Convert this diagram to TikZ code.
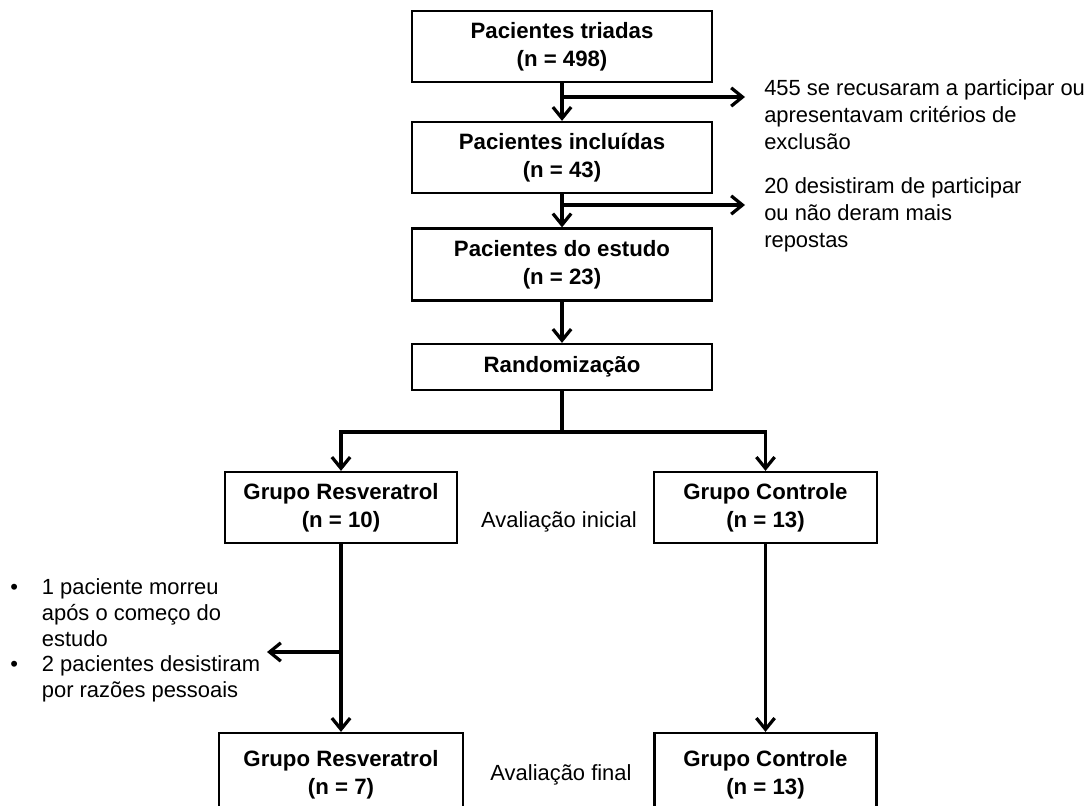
\documentclass[tikz,border=0pt]{standalone}
\usepackage{fontspec}
\setmainfont{Liberation Sans}
\usetikzlibrary{calc, arrows.meta, positioning}
\usepackage{xcolor}

\begin{document}
\begin{tikzpicture}[x=0.025cm, y=-0.025cm, >={Straight Barb[length=8pt, width=13pt]}]
				\tikzstyle{box} = [draw=black, line width=1.6pt, inner sep=0pt, align=center, font=\bfseries\fontsize{15.8}{20}\selectfont]
				\tikzstyle{note} = [draw=none, inner sep=0pt, align=left, font=\fontsize{15.6}{19.2}\selectfont]
				\tikzstyle{flow} = [line width=2.3pt]
				
				\useasboundingbox (0,0) rectangle (1089,805);
				
				\node[box, minimum width=7.5cm, minimum height=1.775cm]		at (562, 46.5)	(triadas)	{Pacientes triadas\\(n = 498)};
				\node[box, minimum width=7.5cm, minimum height=1.775cm]		at (562, 157.5)	(incluidas)	{Pacientes incluídas\\(n = 43)};
				\node[box, minimum width=7.5cm, minimum height=1.8cm]		at (562, 264.5)	(estudo)	{Pacientes do estudo\\(n = 23)};
				\node[box, minimum width=7.5cm, minimum height=1.15cm]		at (562, 367)	(random)	{Randomização};
				\node[box, minimum width=5.8cm, minimum height=1.775cm]		at (341, 507.5)	(resvI)		{Grupo Resveratrol\\(n = 10)};
				\node[box, minimum width=5.575cm, minimum height=1.775cm]	at (765.5, 507.5)	(contI)	{Grupo Controle\\(n = 13)};
				\node[box, minimum width=6.1cm, minimum height=2.1cm]		at (341, 775)	(resvF)		{Grupo Resveratrol\\(n = 7)};
				\node[box, minimum width=5.55cm, minimum height=2.1cm]		at (765.5, 775)	(contF)		{Grupo Controle\\(n = 13)};
				
				\node[note, anchor=west]	at (764, 115)	(recusa)	{455 se recusaram a participar ou\\apresentavam critérios de\\exclusão};
				\node[note, anchor=west]	at (764, 215)	(desiste)	{20 desistiram de participar\\ou não deram mais\\repostas};
				\node[note, anchor=west]	at (10, 641)	(perdas)	{\renewcommand{\arraystretch}{0.95}\begin{tabular}{@{}l@{\hspace{17pt}}l@{}}
						• & 1 paciente morreu\\
						& após o começo do\\
						& estudo\\
						• & 2 pacientes desistiram\\
						& por razões pessoais
					\end{tabular}};
				\node[note]	at (559, 522)	(inicial)	{Avaliação inicial};
				\node[note]	at (561, 775)	(final)		{Avaliação final};
				
				% split points on the stems
				\coordinate (s1) at (562, 97);
				\coordinate (e1) at (745, 97);
				\coordinate (s2) at (562, 205);
				\coordinate (e2) at (745, 205);
				\coordinate (split) at (562, 432);
				\coordinate (s3) at (341, 652);
				\coordinate (e3) at (267, 652);
				
				\path[->, flow]
				(triadas)	edge	(incluidas)
				(incluidas)	edge	(estudo)
				(estudo)	edge	(random)
				(s1)		edge	(e1)
				(s2)		edge	(e2)
				(resvI)		edge	(resvF)
				(contI)		edge	(contF)
				(s3)		edge	(e3);
				
				\draw[flow] (random) -- (split);
				\draw[->, flow] (split) -| (resvI);
				\draw[->, flow] (split) -| (contI);
			\end{tikzpicture}
\end{document}
